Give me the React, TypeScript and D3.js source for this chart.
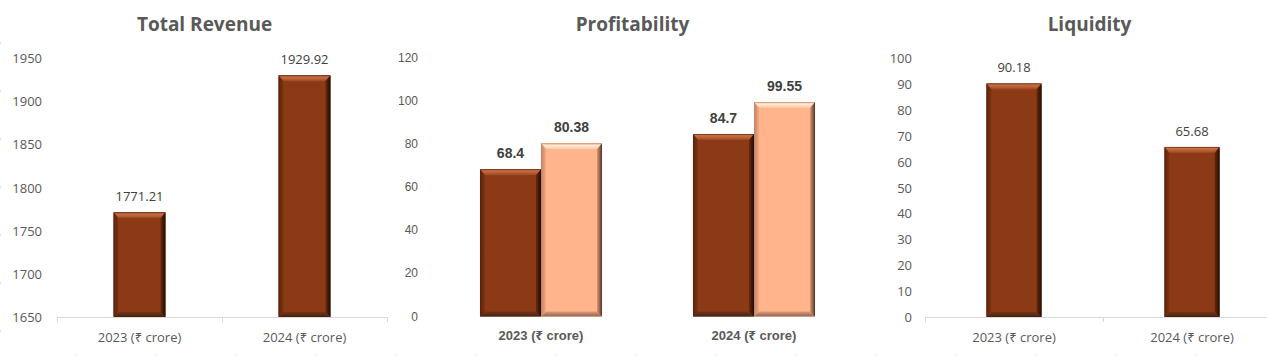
import React from "react";
import * as d3 from "d3";

const categories = ["2023 (₹ crore)", "2024 (₹ crore)"];
const revenueValues = [1771.21, 1929.92];
const revenueTicks = [1650, 1700, 1750, 1800, 1850, 1900, 1950];
const profitSeriesA = [68.4, 84.7];
const profitSeriesB = [80.38, 99.55];
const profitTicks = [0, 20, 40, 60, 80, 100, 120];
const liquidityValues = [90.18, 65.68];
const liquidityTicks = [0, 10, 20, 30, 40, 50, 60, 70, 80, 90, 100];

const W = 1267;
const H = 357;
const SEGOE = "'Open Sans', 'Noto Sans', 'DejaVu Sans', sans-serif";
const ARIAL = "'Liberation Sans', Arial, 'Noto Sans', sans-serif";
const GRAY = "#595959";

type BarProps = { x: number; y: number; w: number; h: number; kind: "dark" | "light" };

function BevelBar({ x, y, w, h, kind }: BarProps) {
  const b = Math.min(6, w / 4, h / 3);
  const s = 5;
  const base = kind === "dark" ? "#8B3A15" : "#FFB48C";
  const p = (pts: number[][]) => pts.map((q) => q.join(",")).join(" ");
  return (
    <g>
      <rect x={x} y={y} width={w} height={h} fill={base} />
      <polygon
        points={p([[x, y], [x + w, y], [x + w - s, y + b], [x + s, y + b]])}
        fill={`url(#top-${kind})`}
      />
      <polygon
        points={p([[x, y + h], [x + w, y + h], [x + w - s, y + h - b + 1], [x + s, y + h - b + 1]])}
        fill={`url(#bot-${kind})`}
      />
      <polygon
        points={p([[x, y], [x + s, y + b], [x + s, y + h - b + 1], [x, y + h]])}
        fill={`url(#left-${kind})`}
      />
      <polygon
        points={p([[x + w, y], [x + w - s, y + b], [x + w - s, y + h - b + 1], [x + w, y + h]])}
        fill={`url(#right-${kind})`}
      />
    </g>
  );
}

function Defs() {
  return (
    <defs>
      <linearGradient id="top-dark" x1="0" y1="0" x2="0" y2="1">
        <stop offset="0" stopColor="#5e240b" />
        <stop offset="0.25" stopColor="#c86f44" />
        <stop offset="0.6" stopColor="#b85f36" />
        <stop offset="1" stopColor="#9a4622" />
      </linearGradient>
      <linearGradient id="bot-dark" x1="0" y1="0" x2="0" y2="1">
        <stop offset="0" stopColor="#73331a" />
        <stop offset="0.5" stopColor="#5c2c18" />
        <stop offset="1" stopColor="#46200f" />
      </linearGradient>
      <linearGradient id="left-dark" x1="0" y1="0" x2="1" y2="0">
        <stop offset="0" stopColor="#5a220a" />
        <stop offset="1" stopColor="#7e3412" />
      </linearGradient>
      <linearGradient id="right-dark" x1="0" y1="0" x2="1" y2="0">
        <stop offset="0" stopColor="#6a2a0e" />
        <stop offset="0.6" stopColor="#3e1807" />
        <stop offset="1" stopColor="#240d03" />
      </linearGradient>
      <linearGradient id="top-light" x1="0" y1="0" x2="0" y2="1">
        <stop offset="0" stopColor="#d08a60" />
        <stop offset="0.3" stopColor="#ffeedd" />
        <stop offset="0.6" stopColor="#ffdcc0" />
        <stop offset="1" stopColor="#ffc29c" />
      </linearGradient>
      <linearGradient id="bot-light" x1="0" y1="0" x2="0" y2="1">
        <stop offset="0" stopColor="#d99a7a" />
        <stop offset="1" stopColor="#946450" />
      </linearGradient>
      <linearGradient id="left-light" x1="0" y1="0" x2="1" y2="0">
        <stop offset="0" stopColor="#c08262" />
        <stop offset="1" stopColor="#f4aa82" />
      </linearGradient>
      <linearGradient id="right-light" x1="0" y1="0" x2="1" y2="0">
        <stop offset="0" stopColor="#d89878" />
        <stop offset="0.6" stopColor="#8a5e48" />
        <stop offset="1" stopColor="#4e3224" />
      </linearGradient>
    </defs>
  );
}

function Title({ x, text }: { x: number; text: string }) {
  return (
    <text x={x} y={31} textAnchor="middle" fontFamily={SEGOE} fontWeight={700} fontSize={19} fill={GRAY}>
      {text}
    </text>
  );
}

function RevenuePanel() {
  const y = d3.scaleLinear().domain([1650, 1950]).range([317, 58]);
  const x = d3.scaleBand<string>().domain(categories).range([57, 387]).paddingInner(0.685).paddingOuter(0.3425);
  const step = x.step();
  const edges = d3.range(categories.length + 1).map((i) => 57 + i * step);
  return (
    <g>
      <Title x={204.5} text="Total Revenue" />
      {revenueTicks.map((t) => (
        <text key={t} x={42} y={y(t)} textAnchor="end" dominantBaseline="central" fontFamily={SEGOE} fontSize={13} fill={GRAY}>
          {t}
        </text>
      ))}
      <line x1={57} x2={387} y1={317.5} y2={317.5} stroke="#d9d9d9" />
      {edges.map((e) => (
        <line key={e} x1={e + 0.5} x2={e + 0.5} y1={317.5} y2={322} stroke="#d9d9d9" />
      ))}
      {categories.map((c, i) => {
        const bx = x(c)!;
        const top = y(revenueValues[i]);
        return (
          <g key={c}>
            <BevelBar x={bx} y={top} w={x.bandwidth()} h={y(1650) - top} kind="dark" />
            <text x={bx + x.bandwidth() / 2} y={top - 16} textAnchor="middle" dominantBaseline="central" fontFamily={SEGOE} fontSize={13} fill="#404040">
              {revenueValues[i].toFixed(2)}
            </text>
            <text x={bx + x.bandwidth() / 2} y={337} textAnchor="middle" dominantBaseline="central" fontFamily={SEGOE} fontSize={13} fill={GRAY}>
              {c}
            </text>
          </g>
        );
      })}
    </g>
  );
}

function ProfitPanel() {
  const y = d3.scaleLinear().domain([0, 120]).range([316.5, 58]);
  const x = d3.scaleBand<string>().domain(categories).range([434.5, 860.5]).paddingInner(0.427).paddingOuter(0.2135);
  const inner = d3.scaleBand<string>().domain(["a", "b"]).range([0, x.bandwidth()]).padding(0);
  const series = [
    { key: "a", values: profitSeriesA, kind: "dark" as const, fmt: (v: number) => String(v) },
    { key: "b", values: profitSeriesB, kind: "light" as const, fmt: (v: number) => v.toFixed(2) },
  ];
  return (
    <g>
      <Title x={632.5} text="Profitability" />
      {profitTicks.map((t) => (
        <text key={t} x={418} y={y(t)} textAnchor="end" dominantBaseline="central" fontFamily={ARIAL} fontSize={12} fill={GRAY}>
          {t}
        </text>
      ))}
      {categories.map((c, i) => (
        <g key={c}>
          {series.map((s) => {
            const bx = x(c)! + inner(s.key)!;
            const top = y(s.values[i]);
            return (
              <g key={s.key}>
                <BevelBar x={bx} y={top} w={inner.bandwidth()} h={y(0) - top} kind={s.kind} />
                <text x={bx + inner.bandwidth() / 2} y={top - 16} textAnchor="middle" dominantBaseline="central" fontFamily={ARIAL} fontWeight={700} fontSize={14} fill="#404040">
                  {s.fmt(s.values[i])}
                </text>
              </g>
            );
          })}
          <text x={x(c)! + x.bandwidth() / 2} y={335} textAnchor="middle" dominantBaseline="central" fontFamily={ARIAL} fontWeight={700} fontSize={13} fill={GRAY}>
            {c}
          </text>
        </g>
      ))}
    </g>
  );
}

function LiquidityPanel() {
  const y = d3.scaleLinear().domain([0, 100]).range([317, 58]);
  const x = d3.scaleBand<string>().domain(categories).range([925, 1281]).paddingInner(0.69).paddingOuter(0.345);
  const step = x.step();
  const edges = d3.range(categories.length + 1).map((i) => 925 + i * step);
  return (
    <g>
      <Title x={1089.5} text="Liquidity" />
      {liquidityTicks.map((t) => (
        <text key={t} x={912} y={y(t)} textAnchor="end" dominantBaseline="central" fontFamily={SEGOE} fontSize={13} fill={GRAY}>
          {t}
        </text>
      ))}
      <line x1={925} x2={W} y1={317.5} y2={317.5} stroke="#d9d9d9" />
      {edges.map((e) => (
        <line key={e} x1={e + 0.5} x2={e + 0.5} y1={317.5} y2={322} stroke="#d9d9d9" />
      ))}
      {categories.map((c, i) => {
        const bx = x(c)!;
        const top = y(liquidityValues[i]);
        return (
          <g key={c}>
            <BevelBar x={bx} y={top} w={x.bandwidth()} h={y(0) - top} kind="dark" />
            <text x={bx + x.bandwidth() / 2} y={top - 16} textAnchor="middle" dominantBaseline="central" fontFamily={SEGOE} fontSize={13} fill="#404040">
              {liquidityValues[i].toFixed(2)}
            </text>
            <text x={bx + x.bandwidth() / 2} y={337} textAnchor="middle" dominantBaseline="central" fontFamily={SEGOE} fontSize={13} fill={GRAY}>
              {c}
            </text>
          </g>
        );
      })}
    </g>
  );
}

export default function App() {
  const leftMarks = d3.range(42, H, 48);
  const bottomMarks = d3.range(76, W, 80);
  return (
    <svg width={W} height={H} style={{ position: "absolute", left: 0, top: 0, background: "#fff" }}>
      <Defs />
      <rect width={W} height={H} fill="#fff" />
      {leftMarks.map((m) => (
        <rect key={"l" + m} x={0} y={m} width={1} height={2} fill="#e3e3e3" />
      ))}
      {bottomMarks.map((m) => (
        <rect key={"b" + m} x={m} y={354} width={1} height={2} fill="#e3e3e3" />
      ))}
      <RevenuePanel />
      <ProfitPanel />
      <LiquidityPanel />
    </svg>
  );
}
